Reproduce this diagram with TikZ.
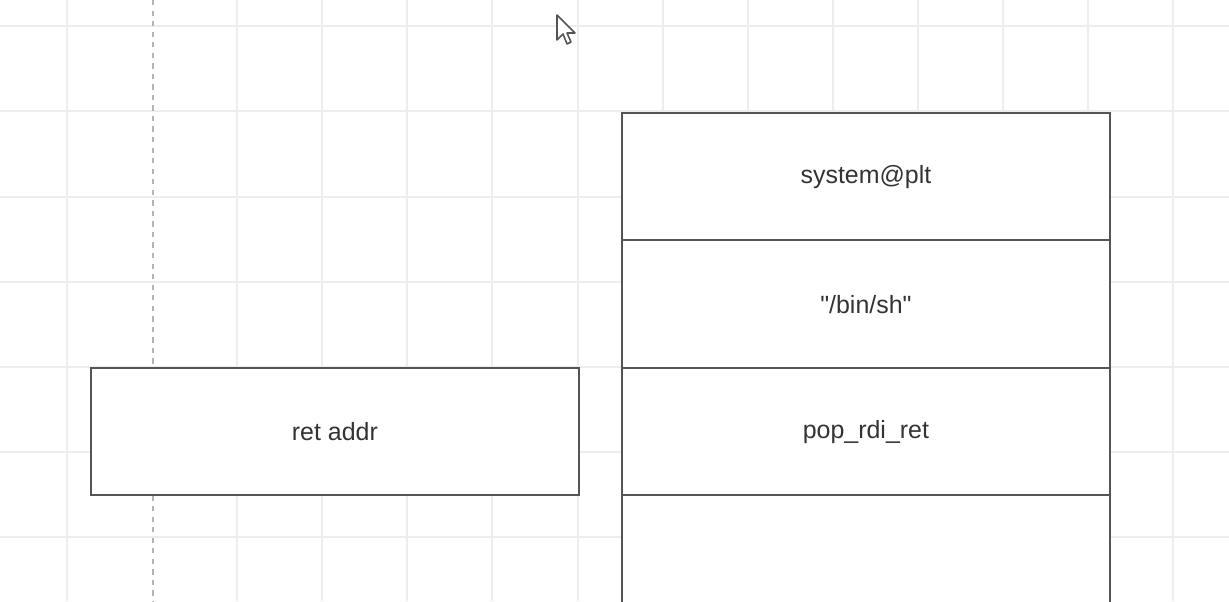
\documentclass[tikz,border=0pt]{standalone}
\usepackage{fontspec}
\setmainfont{Liberation Sans}
\newfontfamily\cellfont{Liberation Sans}
\usepackage{xcolor}
\usetikzlibrary{positioning}
\definecolor{stackline}{HTML}{555555}
\definecolor{stacktext}{HTML}{333333}
\definecolor{gridgray}{HTML}{EDEDED}
\definecolor{guidegray}{HTML}{B4B4B4}

\begin{document}
\begin{tikzpicture}[
  x=0.02cm, y=-0.02cm,
  cell/.style={
    draw=stackline, fill=white, line width=1.1pt,
    minimum width=9.76cm, minimum height=2.55cm,
    inner sep=0pt, align=center, text=stacktext,
    font=\cellfont\fontsize{14.2}{17}\selectfont
  },
  gridline/.style={draw=gridgray, line width=0.8pt},
  guide/.style={draw=guidegray, line width=0.8pt, dashed}
]
\useasboundingbox (0,0) rectangle (1229,601);
\clip (0,0) rectangle (1229,601);
\fill[white] (0,0) rectangle (1229,601);

% ---- Grille ----
\foreach \gx in {67,237,322,407,492,578,663,748,833,918,1003,1088,1173}
  \draw[gridline] (\gx,0) -- (\gx,601);
\foreach \gy in {26,111,197,282,367,452,537}
  \draw[gridline] (0,\gy) -- (1229,\gy);
\draw[guide] (153,0) -- (153,601);

% ---- Pile ----
\node[cell, anchor=north west] (sysplt) at (621,112) {system@plt};
\node[cell, below=-1.1pt of sysplt] (binsh) {"/bin/sh"};
\node[cell, below=-1.1pt of binsh] (poprdi) {pop\_rdi\_ret};
\node[cell, below=-1.1pt of poprdi] (empty) {};

% ---- Adresse de retour ----
\node[cell, anchor=north west] (retaddr) at (90,367) {ret addr};

% ---- Curseur ----
\draw[stackline, fill=white, line width=0.9pt, line join=round]
  (557,15) -- (557,40) -- (563,34) -- (567,44) -- (571,42)
  -- (567,33) -- (575,33) -- cycle;

\end{tikzpicture}
\end{document}
